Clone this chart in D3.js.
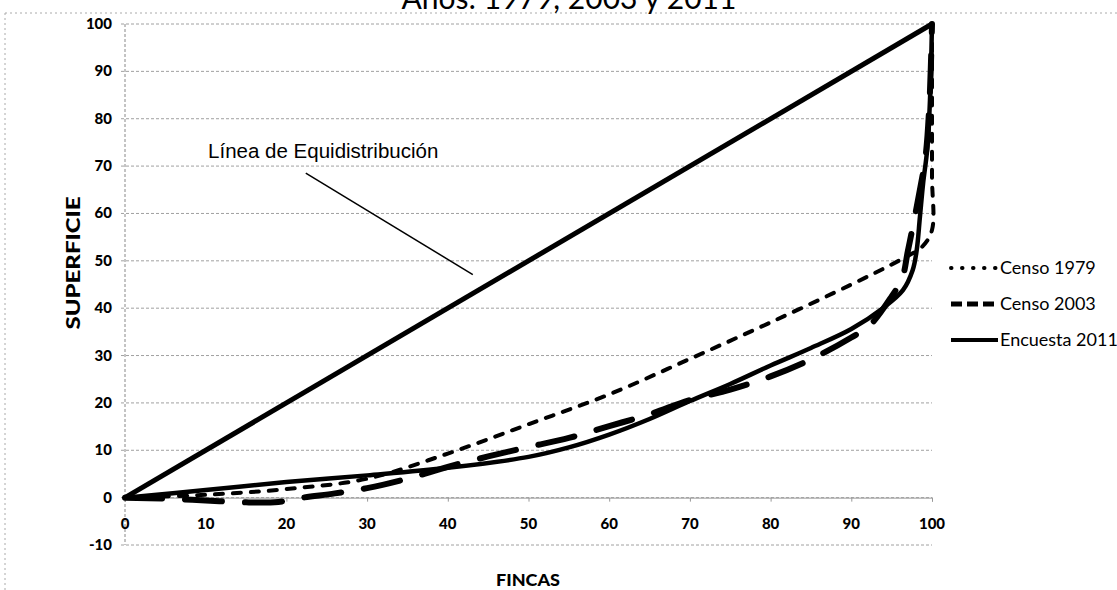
<!DOCTYPE html>
<html>
<head>
<meta charset="utf-8">
<script src="https://cdn.jsdelivr.net/npm/d3@7"></script>
<style>
  body { margin: 0; background: #fff; }
  text { font-family: Lato, "Open Sans", sans-serif; fill: #000; }
</style>
</head>
<body>
<div id="chart"></div>
<script>
// Curva de Lorenz: % acumulado de fincas (x) vs % acumulado de superficie (y)
var equidistribucion = [[0, 0], [100, 100]];

var censo1979 = [[0, 0], [10, 0.6], [20, 1.8], [30, 4.0], [40, 9.3], [50, 15.5], [60, 21.8],
    [70, 29.3], [80, 37.0], [90, 45.0], [96.4, 50.5], [98.8, 53.0], [100, 56.5], [100, 68], [100, 100]];

var censo2003 = [[0, 0], [5, -0.2], [10, -0.6], [15, -1.0], [19, -0.9], [22, 0], [26, 0.9],
    [30, 2.0], [35, 4.0], [40, 6.5], [45, 8.7], [50, 10.7], [55, 12.6], [60, 15.1], [65, 17.6],
    [70, 20.6], [75, 22.8], [80, 25.6], [85, 29.2], [90, 33.8], [92.3, 36.4], [95, 42.5],
    [96.3, 46.3], [97, 52], [97.6, 57], [98.5, 65], [99.2, 72], [99.7, 84], [100, 100]];

var encuesta2011 = [[0, 0], [10, 1.6], [20, 3.3], [30, 4.7], [40, 6.3], [50, 8.6], [55, 10.6],
    [60, 13.3], [65, 16.6], [70, 20.4], [75, 24.0], [80, 27.9], [85, 31.6], [90, 35.6],
    [93.9, 40.0], [96.4, 43.8], [97.6, 48.0], [98.1, 52.2], [98.5, 59.2], [98.9, 66.4],
    [99.4, 73.4], [99.75, 84], [100, 100]];

var seriesNames = ["Censo 1979", "Censo 2003", "Encuesta 2011"];
var xTicks = [0, 10, 20, 30, 40, 50, 60, 70, 80, 90, 100];
var yTicks = [-10, 0, 10, 20, 30, 40, 50, 60, 70, 80, 90, 100];

var W = 1117, H = 590;

var svg = d3.select("#chart").append("svg")
    .attr("width", W)
    .attr("height", H);

// marco punteado del grafico
svg.append("line")
    .attr("x1", 5).attr("x2", W).attr("y1", 13).attr("y2", 13)
    .attr("stroke", "#aaa").attr("stroke-dasharray", "2,3");
svg.append("line")
    .attr("x1", 5).attr("x2", 5).attr("y1", 13).attr("y2", H)
    .attr("stroke", "#aaa").attr("stroke-dasharray", "2,3");

// titulo (cortado arriba, como en el original)
svg.append("text")
    .attr("x", 569)
    .attr("y", 9)
    .attr("text-anchor", "middle")
    .style("font-size", "30px")
    .text("Años: 1979, 2003 y 2011");

var x = d3.scaleLinear().domain([0, 100]).range([125, 932]);
var y = d3.scaleLinear().domain([-10, 100]).range([545, 24]);

// gridlines
svg.selectAll("line.grid")
    .data(yTicks)
    .enter().append("line")
    .attr("class", "grid")
    .attr("x1", x(0) - 4)
    .attr("x2", x(100))
    .attr("y1", function(d) { return y(d); })
    .attr("y2", function(d) { return y(d); })
    .attr("stroke", "#a0a0a0")
    .attr("stroke-width", 1)
    .attr("stroke-dasharray", "3,2");

// eje y
svg.append("line")
    .attr("x1", x(0)).attr("x2", x(0))
    .attr("y1", y(100)).attr("y2", y(-10))
    .attr("stroke", "#888").attr("stroke-dasharray", "3,2");

svg.selectAll("text.ytick")
    .data(yTicks)
    .enter().append("text")
    .attr("class", "ytick")
    .attr("x", 112)
    .attr("y", function(d) { return y(d) + 5; })
    .attr("text-anchor", "end")
    .style("font-size", "15px")
    .style("font-weight", "900")
    .text(function(d) { return d; });

// eje x en y = 0
var xAxis = svg.append("g")
    .attr("transform", "translate(0," + y(0) + ")")
    .call(d3.axisBottom(x).tickValues(xTicks).tickSize(4).tickFormat(""));
xAxis.select(".domain").attr("stroke", "#999");
xAxis.selectAll(".tick line").attr("stroke", "#999");

svg.selectAll("text.xtick")
    .data(xTicks)
    .enter().append("text")
    .attr("class", "xtick")
    .attr("x", function(d) { return x(d); })
    .attr("y", y(0) + 31)
    .attr("text-anchor", "middle")
    .style("font-size", "15px")
    .style("font-weight", "900")
    .text(function(d) { return d; });

// titulos de ejes
svg.append("text")
    .attr("transform", "translate(80,263) rotate(-90)")
    .attr("text-anchor", "middle")
    .attr("textLength", 133)
    .attr("lengthAdjust", "spacingAndGlyphs")
    .style("font-size", "18px")
    .style("font-weight", "900")
    .text("SUPERFICIE");

svg.append("text")
    .attr("x", 528)
    .attr("y", 586)
    .attr("text-anchor", "middle")
    .attr("textLength", 64)
    .attr("lengthAdjust", "spacingAndGlyphs")
    .style("font-size", "16px")
    .style("font-weight", "900")
    .text("FINCAS");

var line = d3.line()
    .x(function(d) { return x(d[0]); })
    .y(function(d) { return y(d[1]); })
    .curve(d3.curveCatmullRom.alpha(0.5));

var styles = [
    {width: 4, dash: "8,10", legendDash: "0.5,10.5"},
    {width: 6, dash: "37,23", legendDash: "11,5"},
    {width: 4.5, dash: null, legendDash: null}
];
var seriesData = [censo1979, censo2003, encuesta2011];

svg.append("path")
    .datum(equidistribucion)
    .attr("d", line)
    .attr("fill", "none")
    .attr("stroke", "#000")
    .attr("stroke-width", 5);

seriesData.forEach(function(s, i) {
    svg.append("path")
        .datum(s)
        .attr("d", line)
        .attr("fill", "none")
        .attr("stroke", "#000")
        .attr("stroke-width", styles[i].width)
        .attr("stroke-linecap", "round")
        .attr("stroke-linejoin", "round")
        .attr("stroke-dasharray", styles[i].dash);
});

// anotacion
svg.append("text")
    .attr("x", x(10.3))
    .attr("y", y(71.7))
    .style("font-family", "'Liberation Sans', Arial, sans-serif")
    .style("font-size", "20.5px")
    .text("Línea de Equidistribución");

svg.append("line")
    .attr("x1", x(22.4)).attr("y1", y(68.5))
    .attr("x2", x(43.1)).attr("y2", y(47.1))
    .attr("stroke", "#000")
    .attr("stroke-width", 1.5);

// leyenda
var legend = svg.selectAll("g.legend")
    .data(seriesNames)
    .enter().append("g")
    .attr("class", "legend")
    .attr("transform", function(d, i) { return "translate(951," + (268 + i * 36) + ")"; });

legend.append("line")
    .attr("x1", 0).attr("x2", 47)
    .attr("stroke", "#000")
    .attr("stroke-width", function(d, i) { return i === 1 ? 5 : 4; })
    .attr("stroke-linecap", function(d, i) { return i === 0 ? "round" : "butt"; })
    .attr("stroke-dasharray", function(d, i) { return styles[i].legendDash; });

legend.append("text")
    .attr("x", 49)
    .attr("y", 6)
    .style("font-size", "18px")
    .text(function(d) { return d; });
</script>
</body>
</html>
